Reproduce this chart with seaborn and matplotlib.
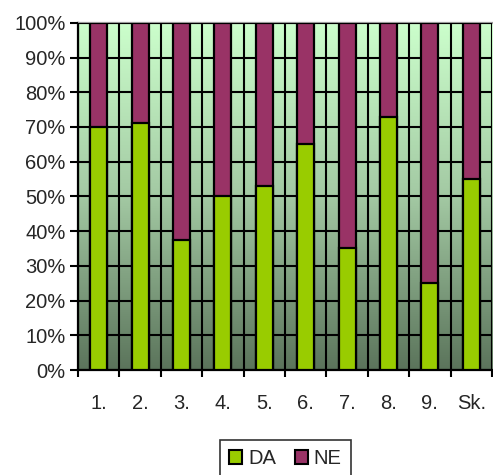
import numpy as np
import pandas as pd
import matplotlib
matplotlib.use("Agg")
import matplotlib.pyplot as plt
from matplotlib.colors import LinearSegmentedColormap
from matplotlib.patches import Patch
import seaborn as sns

categories = ["1.", "2.", "3.", "4.", "5.", "6.", "7.", "8.", "9.", "Sk."]
da_values = [70, 71, 37.5, 50, 53, 65, 35, 73, 25, 55]
ne_values = [100 - v for v in da_values]
y_ticks = [0, 10, 20, 30, 40, 50, 60, 70, 80, 90, 100]

DA_COLOR = "#99CC00"
NE_COLOR = "#993366"

sns.set_theme(style="white")
plt.rcParams["font.family"] = ["Liberation Sans", "DejaVu Sans"]

df = pd.DataFrame({"cat": categories, "DA": da_values, "NE": ne_values})
df["total"] = df["DA"] + df["NE"]

fig = plt.figure(figsize=(4.93, 4.75), dpi=100)
ax = fig.add_axes([0.158, 0.221, 0.84, 0.731])

# gradient plot area background
grad = LinearSegmentedColormap.from_list("bg", ["#5B745B", "#A3C9A3", "#CCFFCC"])
ax.imshow(np.linspace(0, 1, 256).reshape(-1, 1), cmap=grad, origin="lower",
          aspect="auto", extent=[-0.5, 9.5, 0, 100], zorder=-1)

sns.barplot(data=df, x="cat", y="total", color=NE_COLOR, width=0.41,
            edgecolor="black", linewidth=1.6, saturation=1, ax=ax, zorder=3)
sns.barplot(data=df, x="cat", y="DA", color=DA_COLOR, width=0.41,
            edgecolor="black", linewidth=1.6, saturation=1, ax=ax, zorder=4)

ax.set_xlim(-0.5, 9.5)
ax.set_ylim(0, 100)
ax.set_xlabel("")
ax.set_ylabel("")

ax.set_yticks(y_ticks)
ax.set_yticklabels([f"{t}%" for t in y_ticks])
ax.set_xticks(range(len(categories)))
ax.set_xticklabels(categories)
ax.set_xticks(np.arange(-0.5, 10, 1), minor=True)

ax.tick_params(axis="y", which="major", length=6, width=1.5, color="black",
               labelsize=14.5, pad=3, left=True, direction="out")
ax.tick_params(axis="x", which="major", length=0, labelsize=14.5, pad=17)
ax.tick_params(axis="x", which="minor", length=5, width=1.5, color="black",
               bottom=True, direction="out")

# grid sits above the gradient but below the bars
ax.set_axisbelow(False)
ax.grid(True, axis="y", which="major", color="black", linewidth=1.5)
ax.grid(True, axis="x", which="minor", color="black", linewidth=1.5)
ax.grid(False, axis="x", which="major")

for side in ["left", "bottom"]:
    ax.spines[side].set_color("black")
    ax.spines[side].set_linewidth(1.6)
ax.spines["top"].set_color("#999999")
ax.spines["top"].set_linewidth(1.6)
ax.spines["right"].set_visible(False)

handles = [Patch(facecolor=DA_COLOR, edgecolor="black", linewidth=1.5, label="DA"),
           Patch(facecolor=NE_COLOR, edgecolor="black", linewidth=1.5, label="NE")]
leg = fig.legend(handles=handles, loc="upper center", bbox_to_anchor=(0.579, 0.074),
                 borderaxespad=0, ncol=2, frameon=True, fancybox=False, fontsize=14.5,
                 handlelength=0.65, handleheight=0.65, handletextpad=0.3,
                 columnspacing=0.9, borderpad=0.45, edgecolor="black")
leg.get_frame().set_linewidth(1.2)

fig.savefig("out.png", dpi=100)
